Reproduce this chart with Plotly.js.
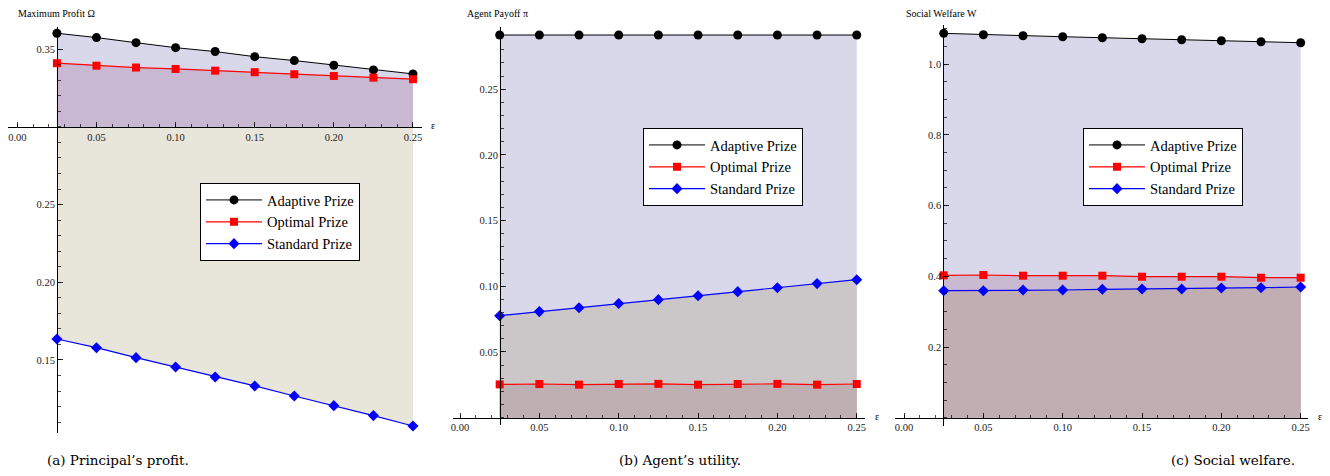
<!DOCTYPE html>
<html>
<head>
<meta charset="utf-8">
<script src="https://cdn.plot.ly/plotly-3.0.1.min.js"></script>
<style>html,body{margin:0;padding:0;background:#fff;}#chart{width:1330px;height:476px;}</style>
</head>
<body>
<div id="chart"></div>
<script>
// ---- data ----
const eps = [0.025, 0.05, 0.075, 0.10, 0.125, 0.15, 0.175, 0.20, 0.225, 0.25];
const seriesNames = ["Adaptive Prize", "Optimal Prize", "Standard Prize"];

const profitAdaptive = [0.3603, 0.3575, 0.3542, 0.3510, 0.3485, 0.3452, 0.3427, 0.3397, 0.3367, 0.3341];
const profitOptimal  = [0.3410, 0.3394, 0.3382, 0.3373, 0.3362, 0.3352, 0.3339, 0.3328, 0.3317, 0.3307];
const profitStandard = [0.1635, 0.1579, 0.1515, 0.1455, 0.1391, 0.1333, 0.1268, 0.1206, 0.1142, 0.1075];
const profitOrigin = 0.30;

const payoffAdaptive = [0.2912, 0.2912, 0.2912, 0.2912, 0.2912, 0.2912, 0.2912, 0.2912, 0.2912, 0.2912];
const payoffOptimal  = [0.0253, 0.0256, 0.0251, 0.0256, 0.0257, 0.0251, 0.0256, 0.0257, 0.0251, 0.0256];
const payoffStandard = [0.0776, 0.0807, 0.0837, 0.0868, 0.0898, 0.0928, 0.0959, 0.0989, 0.1020, 0.1050];
const payoffOrigin = 0;

const welfareAdaptive = [1.0874, 1.0835, 1.0806, 1.0778, 1.0750, 1.0721, 1.0693, 1.0665, 1.0637, 1.0609];
const welfareOptimal  = [0.4028, 0.4037, 0.4017, 0.4017, 0.4017, 0.3989, 0.3989, 0.3989, 0.3960, 0.3960];
const welfareStandard = [0.3593, 0.3593, 0.3612, 0.3612, 0.3632, 0.3641, 0.3641, 0.3669, 0.3678, 0.3697];
const welfareOrigin = 0;

const xTickVals = [0, 0.05, 0.10, 0.15, 0.20, 0.25];
const profitTickVals  = [0.15, 0.20, 0.25, 0.35];
const payoffTickVals  = [0.05, 0.10, 0.15, 0.20, 0.25];
const welfareTickVals = [0.2, 0.4, 0.6, 0.8, 1.0];

const panelTitles = ["Maximum Profit \u03A9", "Agent Payoff \u03C0", "Social Welfare W"];
const captions = ["(a) Principal\u2019s profit.", "(b) Agent\u2019s utility.", "(c) Social welfare."];

// ---- styling ----
const W = 1330, H = 476;
const serif = "Liberation Serif";
const capFont = "DejaVu Serif";
const styles = [
  {color: "#000000", symbol: "circle", size: 9, width: 1},
  {color: "#ff0000", symbol: "square", size: 8, width: 1.2},
  {color: "#0000ff", symbol: "diamond", size: 8.5, width: 1.2}
];

// panel geometry (pixels) and ranges
const panels = [
  {xs: "x", ys: "y", xa: "xaxis", ya: "yaxis", leg: "legend",
   xpx: [8, 422], xrange: [-0.0059, 0.2557], ypx: [27, 433], yrange: [0.103, 0.3643],
   axisYpx: 127, axisXpx: 57, origin: profitOrigin, series: [profitAdaptive, profitOptimal, profitStandard],
   fills: ["#d9d8ea", "#c9b8d2", "#e8e5da"], fillOrder: [0, 1, 2],
   ytick: profitTickVals, yfmt: ".2f", ydminor: 0.01, legPx: [200, 183]},
  {xs: "x2", ys: "y2", xa: "xaxis2", ya: "yaxis2", leg: "legend2",
   xpx: [452.7, 865], xrange: [-0.0046, 0.2552], ypx: [27, 425], yrange: [-0.0056, 0.2973],
   axisYpx: 417.7, axisXpx: 500, origin: payoffOrigin, series: [payoffAdaptive, payoffOptimal, payoffStandard],
   fills: ["#d9d8ea", "#bfaeb2", "#cbc7c8"], fillOrder: [0, 2, 1],
   ytick: payoffTickVals, yfmt: ".2f", ydminor: 0.01, legPx: [643, 128]},
  {xs: "x3", ys: "y3", xa: "xaxis3", ya: "yaxis3", leg: "legend3",
   xpx: [895, 1308.3], xrange: [-0.0057, 0.2548], ypx: [25, 426], yrange: [-0.0235, 1.111],
   axisYpx: 417.7, axisXpx: 943.3, origin: welfareOrigin, series: [welfareAdaptive, welfareOptimal, welfareStandard],
   fills: ["#d9d8ea", "#c9b9d1", "#c0aeb3"], fillOrder: [0, 1, 2],
   ytick: welfareTickVals, yfmt: ".1f", ydminor: 0.05, legPx: [1083, 128]}
];

const traces = [];
const layout = {
  width: W, height: H,
  margin: {l: 0, r: 0, t: 0, b: 0, pad: 0},
  paper_bgcolor: "#ffffff", plot_bgcolor: "rgba(0,0,0,0)",
  font: {family: serif, size: 10, color: "#000"},
  showlegend: true,
  annotations: [],
  hovermode: false
};

panels.forEach((p, pi) => {
  // fills (built from the series and the axis origin)
  p.fillOrder.forEach(si => {
    const ys = p.series[si];
    traces.push({
      type: "scatter", mode: "lines", xaxis: p.xs, yaxis: p.ys,
      x: eps.concat(eps.slice().reverse()),
      y: ys.concat(ys.map(() => p.origin)),
      fill: "toself", fillcolor: p.fills[si],
      line: {width: 0, color: p.fills[si]},
      showlegend: false, hoverinfo: "skip"
    });
  });
  // lines + markers
  p.series.forEach((ys, si) => {
    const s = styles[si];
    traces.push({
      type: "scatter", mode: "lines+markers", xaxis: p.xs, yaxis: p.ys,
      x: eps, y: ys, name: seriesNames[si], legend: p.leg,
      line: {color: s.color, width: s.width},
      marker: {color: s.color, symbol: s.symbol, size: s.size, line: {width: 0}},
      cliponaxis: false
    });
  });

  const xdom = [p.xpx[0] / W, p.xpx[1] / W];
  const ydom = [1 - p.ypx[1] / H, 1 - p.ypx[0] / H];
  layout[p.xa] = {
    domain: xdom, range: p.xrange, anchor: "free", position: 1 - p.axisYpx / H,
    showgrid: false, zeroline: false, showline: true, linecolor: "#000", linewidth: 1,
    ticks: "inside", ticklen: 5, tickwidth: 0.8, tickcolor: "#000",
    tickmode: "array", tickvals: xTickVals, tickformat: ".2f",
    tickfont: {family: serif, size: 10.5, color: "#222"},
    minor: {tickmode: "linear", tick0: 0, dtick: 0.01, ticks: "inside", ticklen: 3, tickwidth: 0.7, tickcolor: "#000", showgrid: false},
    fixedrange: true
  };
  layout[p.ya] = {
    domain: ydom, range: p.yrange, anchor: "free", position: p.axisXpx / W,
    showgrid: false, zeroline: false, showline: true, linecolor: "#000", linewidth: 1,
    ticks: "inside", ticklen: 5, tickwidth: 0.8, tickcolor: "#000",
    tickmode: "array", tickvals: p.ytick, tickformat: p.yfmt,
    tickfont: {family: serif, size: 10.5, color: "#222"},
    minor: {tickmode: "linear", tick0: 0, dtick: p.ydminor, ticks: "inside", ticklen: 3, tickwidth: 0.7, tickcolor: "#000", showgrid: false},
    fixedrange: true
  };
  layout[p.leg] = {
    x: p.legPx[0] / W, y: 1 - p.legPx[1] / H, xanchor: "left", yanchor: "top",
    bgcolor: "#ffffff", bordercolor: "#000", borderwidth: 1,
    font: {family: serif, size: 14.5, color: "#000"},
    itemwidth: 56, tracegroupgap: 0
  };
  // axis title at top
  layout.annotations.push({
    text: panelTitles[pi], xref: "paper", yref: "paper",
    x: [16, 465, 904][pi] / W, y: 1 - 13 / H, xanchor: "left", yanchor: "middle",
    showarrow: false, font: {family: serif, size: 10, color: "#000"}
  });
  // epsilon label at right end of x axis
  layout.annotations.push({
    text: "\u03B5", xref: "paper", yref: "paper",
    x: [433, 876.7, 1320][pi] / W, y: 1 - (p.axisYpx - 1) / H, xanchor: "center", yanchor: "middle",
    showarrow: false, font: {family: serif, size: 10, color: "#000"}
  });
  // caption
  layout.annotations.push({
    text: captions[pi], xref: "paper", yref: "paper",
    x: [118, 680, 1233][pi] / W, y: 1 - 460 / H, xanchor: "center", yanchor: "middle",
    showarrow: false, font: {family: capFont, size: 13.5, color: "#000"}
  });
});

Plotly.newPlot("chart", traces, layout, {staticPlot: true, displayModeBar: false});
</script>
</body>
</html>
